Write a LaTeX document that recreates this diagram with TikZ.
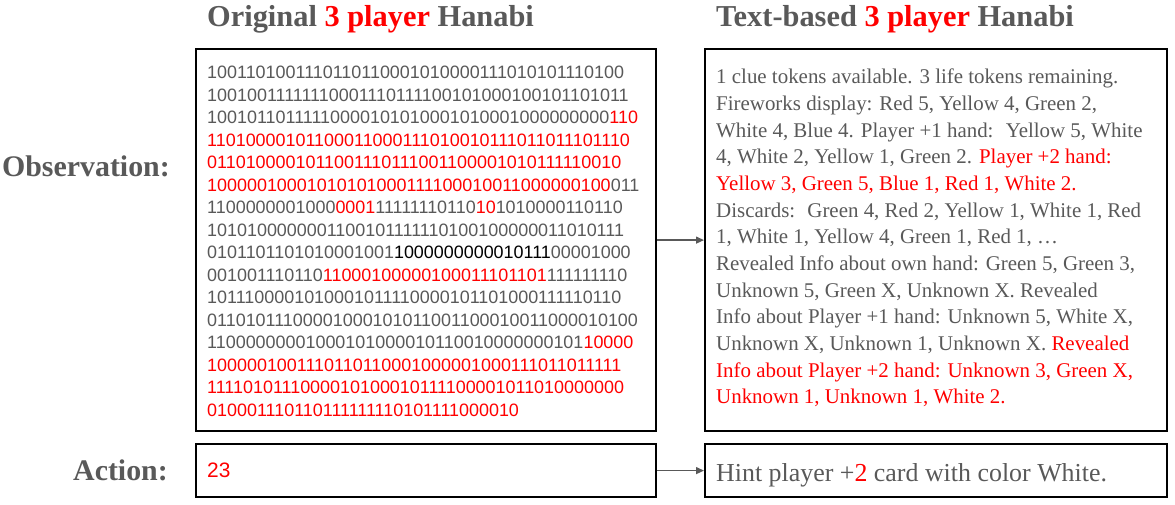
\documentclass[tikz,border=0pt]{standalone}
\usepackage{fontspec}
\setmainfont{Liberation Serif}
\newfontfamily\binfont{Liberation Sans}
\usetikzlibrary{positioning,arrows.meta}
\definecolor{hgray}{HTML}{595959}
\definecolor{hred}{HTML}{FF0000}
\newcommand{\rd}[1]{\textcolor{hred}{#1}}
\newcommand{\bk}[1]{\textcolor{black}{#1}}

\begin{document}
\begin{tikzpicture}[x=1bp,y=-1bp,
	panel/.style={draw=black,line width=2.2bp,anchor=north west,inner sep=0pt},
	head/.style={font=\bfseries\fontsize{30.5}{34}\selectfont,text=hgray,anchor=west,inner sep=0pt},
	rowlabel/.style={font=\bfseries\fontsize{30}{34}\selectfont,text=hgray,anchor=east,inner sep=0pt},
	bits/.style={font=\binfont\fontsize{18}{22.6}\selectfont,text=hgray,align=left,anchor=north west,inner sep=0pt},
	prose/.style={font=\fontsize{21}{26.75}\selectfont,text=hgray,align=left,anchor=north west,inner sep=0pt},
	link/.style={->,>={Triangle[length=8bp,width=7bp]},draw=hgray,line width=1.3bp}]
	\useasboundingbox (0,0) rectangle (1175,505);
	\node[head](origtitle) at (207,19){Original \rd{3 player} Hanabi};
	\node[head](texttitle) at (716,19){Text-based \rd{3 player} Hanabi};
	\node[panel,minimum width=460bp,minimum height=382bp](obsL) at (195,48){};
	\node[panel,minimum width=462bp,minimum height=382bp](obsR) at (704,48){};
	\node[panel,minimum width=460bp,minimum height=53bp](actL) at (195,443){};
	\node[panel,minimum width=462bp,minimum height=53bp](actR) at (704,443){};
	\node[rowlabel](obslabel) at (170,166){Observation:};
	\node[rowlabel](actlabel)[left = 27bp of actL]{Action:};
	\node[bits](obsbits) at (207,66){%
		1001101001110110110001010000111010101110100\\
		10010011111110001110111100101000100101101011\\
		10010110111110000101010001010001000000000\rd{110}\\
		\rd{11010000101100011000111010010111011011101110}\\
		\rd{0110100001011001110111001100001010111110010}\\
		\rd{10000010001010101000111100010011000000100}011\\
		1100000001000\rd{0001}11111110110\rd{10}1010000110110\\
		1010100000001100101111110100100000011010111\\
		0101101101010001001\bk{1000000000010111}00001000\\
		001001110110\rd{11000100000100011101101}111111110\\
		1011100001010001011110000101101000111110110\\
		01101011100001000101011001100010011000010100\\
		11000000001000101000010110010000000101\rd{10000}\\
		\rd{1000001001110110110001000001000111011011111}\\
		\rd{1111010111000010100010111100001011010000000}\\
		\rd{010001110110111111110101111000010}};
	\node[prose](obstext) at (716,69){%
		1 clue tokens available. 3 life tokens remaining.\\
		Fireworks display: Red 5, Yellow 4, Green 2,\\
		White 4, Blue 4. Player +1 hand:~ Yellow 5, White\\
		4, White 2, Yellow 1, Green 2. \rd{Player +2 hand:}\\
		\rd{Yellow 3, Green 5, Blue 1, Red 1, White 2.}\\
		Discards:~ Green 4, Red 2, Yellow 1, White 1, Red\\
		1, White 1, Yellow 4, Green 1, Red 1, \dots\\
		Revealed Info about own hand: Green 5, Green 3,\\
		Unknown 5, Green X, Unknown X. Revealed\\
		Info about Player +1 hand: Unknown 5, White X,\\
		Unknown X, Unknown 1, Unknown X. \rd{Revealed}\\
		\rd{Info about Player +2 hand: Unknown 3, Green X,}\\
		\rd{Unknown 1, Unknown 1, White 2.}};
	\node[bits,anchor=west,font=\binfont\fontsize{21}{24}\selectfont](actbits) at (207,470){\rd{23}};
	\node[prose,anchor=west,font=\fontsize{26}{28}\selectfont](acttext) at (716,475){Hint player +\rd{2} card with color White.};
	\draw[link](obsL.east) -- (obsR.west);
	\draw[link](actL.east) -- (actR.west);
\end{tikzpicture}
\end{document}
